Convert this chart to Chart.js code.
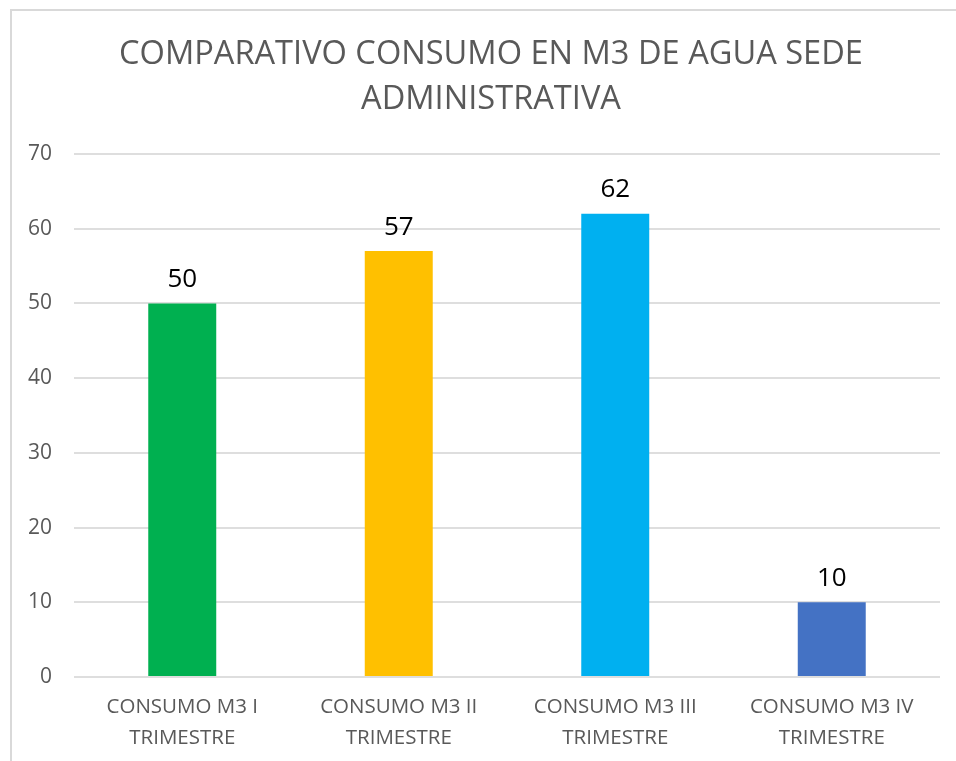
<!DOCTYPE html>
<html>
<head>
<meta charset="utf-8">
<script src="https://cdn.jsdelivr.net/npm/chart.js@4.4.1/dist/chart.umd.min.js"></script>
<style>
  html, body { margin: 0; padding: 0; background: #fff; overflow: hidden; }
  #frame { position: absolute; left: 10px; top: 9px; width: 1000px; height: 800px;
           border-left: 2px solid #d9d9d9; border-top: 2px solid #d9d9d9; }
  #wrap { position: absolute; left: 0; top: 0; width: 956px; height: 761px; }
</style>
</head>
<body>
<div id="frame"></div>
<div id="wrap"><canvas id="c" width="956" height="761"></canvas></div>
<script>
const titleLines = ["COMPARATIVO CONSUMO EN M3 DE AGUA SEDE", "ADMINISTRATIVA"];
const categories = [
  ["CONSUMO M3 I", "TRIMESTRE"],
  ["CONSUMO M3 II", "TRIMESTRE"],
  ["CONSUMO M3 III", "TRIMESTRE"],
  ["CONSUMO M3 IV", "TRIMESTRE"]
];
const values = [50, 57, 62, 10];
const barColors = ["#00B050", "#FFC000", "#00B0F0", "#4472C4"];
const yTicks = [0, 10, 20, 30, 40, 50, 60, 70];

const FONT = "'Open Sans', sans-serif";

const valueLabels = {
  id: 'valueLabels',
  afterDatasetsDraw(chart) {
    const ctx = chart.ctx;
    const meta = chart.getDatasetMeta(0);
    ctx.save();
    ctx.font = "26px " + FONT;
    ctx.fillStyle = "#000";
    ctx.textAlign = "center";
    ctx.textBaseline = "middle";
    meta.data.forEach((bar, i) => {
      ctx.fillText(String(values[i]), bar.x, bar.y - 24);
    });
    ctx.restore();
  }
};

new Chart(document.getElementById('c'), {
  type: 'bar',
  data: {
    labels: categories,
    datasets: [{
      data: values,
      backgroundColor: barColors,
      borderWidth: 0,
      barPercentage: 0.314,
      categoryPercentage: 1
    }]
  },
  options: {
    responsive: false,
    animation: false,
    devicePixelRatio: 1,
    layout: { padding: { left: 26, right: 0, top: 32, bottom: 0 } },
    plugins: {
      legend: { display: false },
      tooltip: { enabled: false },
      title: {
        display: true,
        text: titleLines,
        color: "#595959",
        font: { family: FONT, size: 32.6, weight: 'normal', lineHeight: 1.38 },
        padding: { top: 0, bottom: 32 }
      }
    },
    scales: {
      x: {
        grid: { display: false, drawTicks: false },
        border: { display: false },
        ticks: {
          color: "#595959",
          font: { family: FONT, size: 20.5, lineHeight: 1.5 },
          padding: 15,
          maxRotation: 0,
          autoSkip: false
        },
        afterFit(scale) { scale.height = 84; }
      },
      y: {
        min: 0, max: 70,
        afterBuildTicks(scale) { scale.ticks = yTicks.map(v => ({ value: v })); },
        grid: { color: "#dedede", lineWidth: 2, drawTicks: false },
        border: { display: false },
        ticks: {
          color: "#595959",
          font: { family: FONT, size: 21 },
          padding: 22
        },
        afterFit(scale) { scale.width = 48; }
      },
      yRight: {
        type: 'linear',
        position: 'right',
        display: true,
        grid: { display: false, drawTicks: false },
        border: { display: false },
        ticks: { display: false },
        afterFit(scale) { scale.width = 16; }
      }
    }
  },
  plugins: [valueLabels]
});
</script>
</body>
</html>
